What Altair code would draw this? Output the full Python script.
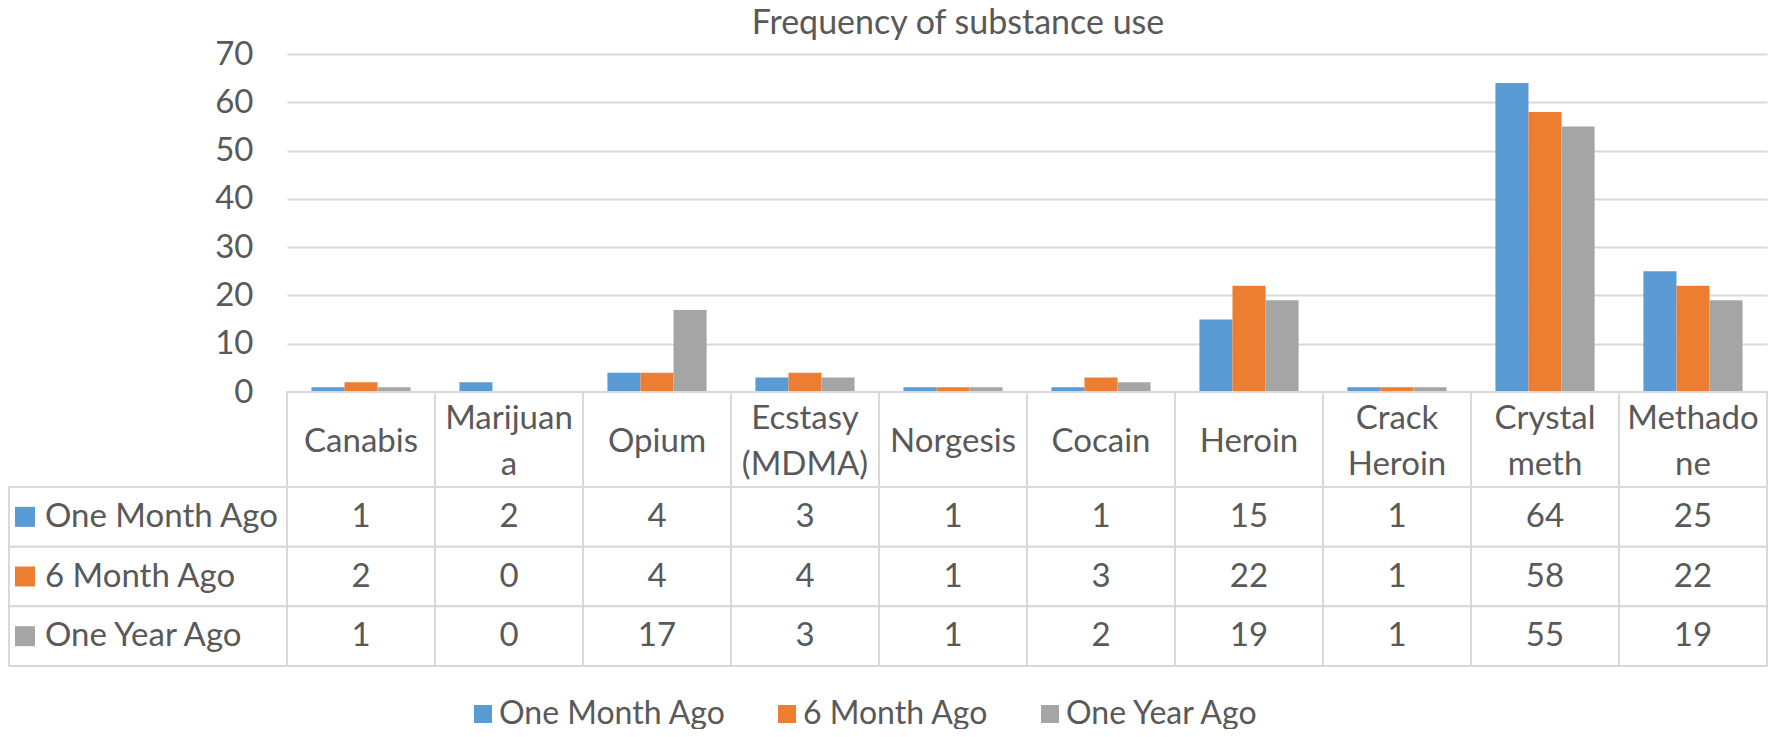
import altair as alt
import pandas as pd

title_text = "Frequency of substance use"
categories = ["Canabis", "Marijuana", "Opium", "Ecstasy (MDMA)", "Norgesis",
              "Cocain", "Heroin", "Crack Heroin", "Crystal meth", "Methadone"]
header_labels = ["Canabis", "Marijuan\na", "Opium", "Ecstasy\n(MDMA)", "Norgesis",
                 "Cocain", "Heroin", "Crack\nHeroin", "Crystal\nmeth", "Methado\nne"]
series = ["One Month Ago", "6 Month Ago", "One Year Ago"]
one_month = [1, 2, 4, 3, 1, 1, 15, 1, 64, 25]
six_month = [2, 0, 4, 4, 1, 3, 22, 1, 58, 22]
one_year = [1, 0, 17, 3, 1, 2, 19, 1, 55, 19]
colors = ["#5B9BD5", "#ED7D31", "#A5A5A5"]
y_ticks = [0, 10, 20, 30, 40, 50, 60, 70]

FONT = "Lato"
TXT = "#595959"
GRID = "#D9D9D9"
FS = 33

W, H = 1480, 338
PAD_L, PAD_T, PAD_R = 279, 46, 1
TOTAL_H = 721
HEAD_TOP, HEAD_BOT, TABLE_BOT = H, 433, 612
HEAD_MID = 388
LINE_H = 46

rows = []
for s, vals in zip(series, [one_month, six_month, one_year]):
    for c, v in zip(categories, vals):
        rows.append({"category": c, "series": s, "value": v})
df = pd.DataFrame(rows)
head_df = pd.DataFrame({"category": categories, "label": header_labels})
ser_df = pd.DataFrame({"series": series})
title_df = pd.DataFrame({"t": [title_text]})

color = alt.Color("series:N", scale=alt.Scale(domain=series, range=colors),
                  legend=alt.Legend(title=None, orient="none", direction="horizontal",
                                    legendX=180, legendY=644, symbolType="square",
                                    symbolSize=324, symbolStrokeWidth=0,
                                    labelFont=FONT, labelFontSize=32, labelColor=TXT,
                                    labelOffset=0, columnPadding=45, labelLimit=400))

x_bar = alt.X("category:N", scale=alt.Scale(domain=categories, paddingInner=0.33,
                                            paddingOuter=0.165), axis=None)
x_tab = alt.X("category:N", scale=alt.Scale(domain=categories, paddingInner=0,
                                            paddingOuter=0), axis=None)
y_rows = alt.Y("series:N", scale=alt.Scale(domain=series, range=[HEAD_BOT, TABLE_BOT],
                                           paddingInner=0, paddingOuter=0), axis=None)

bars = alt.Chart(df).mark_bar().encode(
    x=x_bar,
    xOffset=alt.XOffset("series:N", scale=alt.Scale(domain=series, paddingInner=0,
                                                    paddingOuter=0)),
    y=alt.Y("value:Q", scale=alt.Scale(domain=[0, 70]),
            axis=alt.Axis(title=None, values=y_ticks, ticks=False, domain=False,
                          grid=True, gridColor=GRID, gridWidth=2,
                          labelFont=FONT, labelFontSize=FS, labelColor=TXT,
                          labelPadding=34)),
    color=color,
)

head_cells = alt.Chart(head_df).mark_rect(fill="white", stroke=GRID, strokeWidth=2).encode(
    x=x_tab, y=alt.value(HEAD_TOP), y2=alt.value(HEAD_BOT))
head_text_1 = alt.Chart(head_df).transform_filter(
    "indexof(datum.label, '\\n') < 0"
).mark_text(font=FONT, fontSize=FS, color=TXT, baseline="middle").encode(
    x=x_tab, y=alt.value(HEAD_MID), text="label:N")
head_text_2 = alt.Chart(head_df).transform_filter(
    "indexof(datum.label, '\\n') >= 0"
).mark_text(font=FONT, fontSize=FS, color=TXT, lineBreak="\n", lineHeight=LINE_H,
            baseline="middle").encode(
    x=x_tab, y=alt.value(HEAD_MID - LINE_H / 2), text="label:N")

cells = alt.Chart(df).mark_rect(fill="white", stroke=GRID, strokeWidth=2).encode(
    x=x_tab, y=y_rows)
cell_text = alt.Chart(df).mark_text(font=FONT, fontSize=FS, color=TXT,
                                    baseline="middle").encode(
    x=x_tab, y=y_rows, text="value:Q")

left_cells = alt.Chart(ser_df).mark_rect(fill="white", stroke=GRID, strokeWidth=2).encode(
    x=alt.value(-278), x2=alt.value(0), y=y_rows)
left_keys = alt.Chart(ser_df).mark_point(shape="square", filled=True, size=400,
                                         opacity=1).encode(
    x=alt.value(-262), y=y_rows, color=color)
left_text = alt.Chart(ser_df).mark_text(font=FONT, fontSize=FS, color=TXT, align="left",
                                        baseline="middle").encode(
    x=alt.value(-242), y=y_rows, text="series:N")

title = alt.Chart(title_df).mark_text(font=FONT, fontSize=34, color=TXT, align="center",
                                      baseline="alphabetic").encode(
    x=alt.value(671), y=alt.value(-20), text="t:N")

chart = alt.layer(
    bars, head_cells, head_text_1, head_text_2, cells, cell_text,
    left_cells, left_keys, left_text, title
).resolve_scale(x="independent", y="independent").properties(
    width=W, height=H,
    autosize=alt.AutoSizeParams(type="none"),
    padding={"left": PAD_L, "top": PAD_T, "right": PAD_R,
             "bottom": TOTAL_H - PAD_T - H},
    background="white",
).configure_view(stroke=None)

chart.save("out.html", embed_options={"renderer": "svg", "actions": False})
